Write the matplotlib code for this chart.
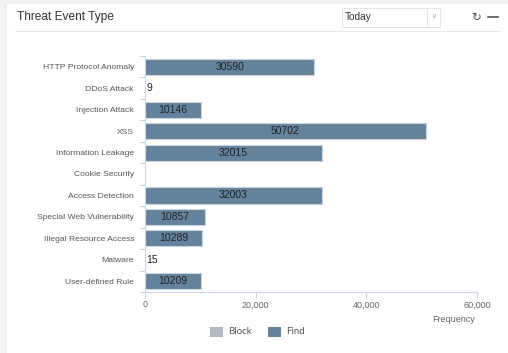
import matplotlib
matplotlib.use("Agg")
import matplotlib.pyplot as plt
from matplotlib.patches import FancyBboxPatch, Rectangle
from matplotlib.lines import Line2D

plt.rcParams['font.family'] = ['Liberation Sans', 'DejaVu Sans']

# Data
categories = ['HTTP Protocol Anomaly', 'DDoS Attack', 'Injection Attack', 'XSS',
              'Information Leakage', 'Cookie Security', 'Access Detection',
              'Special Web Vulnerability', 'Illegal Resource Access', 'Malware',
              'User-defined Rule']
find_values = [30590, 9, 10146, 50702, 32015, 0, 32003, 10857, 10289, 15, 10209]
block_values = [0, 0, 0, 0, 0, 0, 0, 0, 0, 0, 0]
x_ticks = [0, 20000, 40000, 60000]
x_tick_labels = ['0', '20,000', '40,000', '60,000']

W, H = 508, 353
fig = plt.figure(figsize=(W / 100, H / 100), dpi=100)
fig.patch.set_facecolor('#f3f3f3')


def fx(px):
    return px / W


def fy(py):
    return 1 - py / H


# White card (behind everything)
card = FancyBboxPatch((fx(6), -0.05), fx(W + 10) - fx(6), fy(3) + 0.05,
                      boxstyle="round,pad=0,rounding_size=0.008",
                      transform=fig.transFigure, facecolor='white',
                      edgecolor='#e6e6e6', linewidth=0.6, zorder=-10)
fig.patches.append(card)

# Header
fig.text(fx(17), fy(17), 'Threat Event Type', fontsize=8.6, color='#333333',
         va='center', ha='left')
fig.add_artist(Line2D([fx(15), fx(500)], [fy(31), fy(31)], color='#e8e8e8',
                      linewidth=0.8, transform=fig.transFigure))
# Dropdown
fig.patches.append(Rectangle((fx(342), fy(27)), fx(440) - fx(342), fy(8) - fy(27),
                             transform=fig.transFigure, facecolor='white',
                             edgecolor='#e0e0e0', linewidth=0.6))
fig.add_artist(Line2D([fx(427), fx(427)], [fy(9), fy(26)], color='#e0e0e0',
                      linewidth=0.6, transform=fig.transFigure))
fig.text(fx(345), fy(17), 'Today', fontsize=7.3, color='#333333', va='center')
fig.text(fx(433.5), fy(16), '\u2228', fontsize=5, color='#aaaaaa', va='center',
         ha='center', family='DejaVu Sans')
fig.text(fx(476), fy(17), '\u21bb', fontsize=8.5, color='#555555', va='center',
         ha='center', family='DejaVu Sans')
fig.add_artist(Line2D([fx(488), fx(498)], [fy(17), fy(17)], color='#555555',
                      linewidth=1.2, transform=fig.transFigure))

# Chart
ax = fig.add_axes([fx(145), fy(292), fx(477) - fx(145), fy(56) - fy(292)])
ax.set_zorder(5)
ax.set_facecolor('white')
pos = list(range(len(categories)))
find_color = '#64829c'
block_color = '#b1b9c1'
ax.barh(pos, block_values, height=0.75, color=block_color, edgecolor='#dfe6ee',
        linewidth=0.6)
bars = ax.barh(pos, find_values, left=block_values, height=0.75, color=find_color,
               edgecolor='#c9d5e2', linewidth=0.8)

for p, v in zip(pos, find_values):
    if v == 0:
        continue
    if v < 2000:
        ax.text(v + 250, p, str(v), ha='left', va='center', fontsize=7.5,
                color='#222222')
    else:
        ax.text(v / 2, p, str(v), ha='center', va='center', fontsize=7.5,
                color='#222222')

ax.set_xlim(0, 60000)
ax.set_ylim(len(categories) - 0.5, -0.5)
ax.set_xticks(x_ticks)
ax.set_xticklabels(x_tick_labels, fontsize=6.5, color='#666666')
ax.set_yticks(pos)
ax.set_yticklabels(categories, fontsize=6.1, color='#555555')
ax.set_yticks([p - 0.5 for p in pos] + [len(categories) - 0.5], minor=True)
ax.tick_params(axis='y', which='major', length=0, pad=8)
ax.tick_params(axis='y', which='minor', length=4, color='#ccd6eb', width=0.8)
ax.tick_params(axis='x', which='major', length=4, color='#ccd6eb', width=0.8,
               pad=2)
for s in ['top', 'right']:
    ax.spines[s].set_visible(False)
for s in ['left', 'bottom']:
    ax.spines[s].set_color('#ccd6eb')
    ax.spines[s].set_linewidth(0.8)

fig.text(fx(475), fy(319), 'Frequency', fontsize=6.5, color='#666666',
         ha='right', va='center')

# Legend
fig.patches.append(Rectangle((fx(210), fy(337)), fx(13), fy(0) - fy(10),
                             transform=fig.transFigure, facecolor=block_color))
fig.text(fx(228), fy(331.5), 'Block', fontsize=7, color='#555555', va='center',
         family=['Lato', 'DejaVu Sans'])
fig.patches.append(Rectangle((fx(268), fy(337)), fx(13), fy(0) - fy(10),
                             transform=fig.transFigure, facecolor=find_color))
fig.text(fx(286), fy(331.5), 'Find', fontsize=7, color='#555555', va='center',
         family=['Lato', 'DejaVu Sans'])

fig.savefig('out.png', dpi=100)
